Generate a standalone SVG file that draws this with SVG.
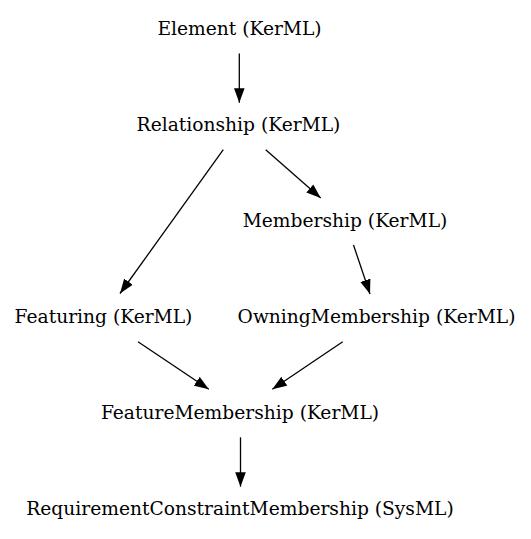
<svg xmlns="http://www.w3.org/2000/svg" width="531" height="539" viewBox="0 0 531 539">
<defs>
<marker id="ah" markerWidth="15" markerHeight="11" refX="14.5" refY="5.5" orient="auto" markerUnits="userSpaceOnUse" viewBox="0 0 15 11">
<path d="M0,0.2 L14.5,5.5 L0,10.8 z" fill="#000"/>
</marker>
<style>
text{font-family:"DejaVu Serif",serif;font-size:18.67px;fill:#000;text-anchor:middle}
.e{stroke:#000;stroke-width:1.3;fill:none;marker-end:url(#ah)}
</style>
</defs>
<rect width="531" height="539" fill="#fff"/>
<g id="connectors">
<line class="e" x1="239.3" y1="53.5" x2="239.3" y2="102.7"/>
<line class="e" x1="223.3" y1="149.7" x2="120" y2="293.5"/>
<line class="e" x1="265.7" y1="149.7" x2="320.7" y2="198"/>
<line class="e" x1="353.5" y1="245" x2="370" y2="294"/>
<line class="e" x1="138" y1="341.7" x2="208.8" y2="389.3"/>
<line class="e" x1="342.7" y1="341.7" x2="272.3" y2="389.3"/>
<line class="e" x1="240.5" y1="437.3" x2="240.5" y2="486.7"/>
</g>
<g id="element"><text x="239.5" y="34.5">Element (KerML)</text></g>
<g id="relationship"><text x="238.5" y="130.5">Relationship (KerML)</text></g>
<g id="membership"><text x="345" y="226.5">Membership (KerML)</text></g>
<g id="featuring"><text x="103.5" y="322.5">Featuring (KerML)</text></g>
<g id="owningmembership"><text x="376.5" y="322.5">OwningMembership (KerML)</text></g>
<g id="featuremembership"><text x="240" y="418.5">FeatureMembership (KerML)</text></g>
<g id="reqconstraintmembership"><text x="240" y="514.5">RequirementConstraintMembership (SysML)</text></g>
</svg>
